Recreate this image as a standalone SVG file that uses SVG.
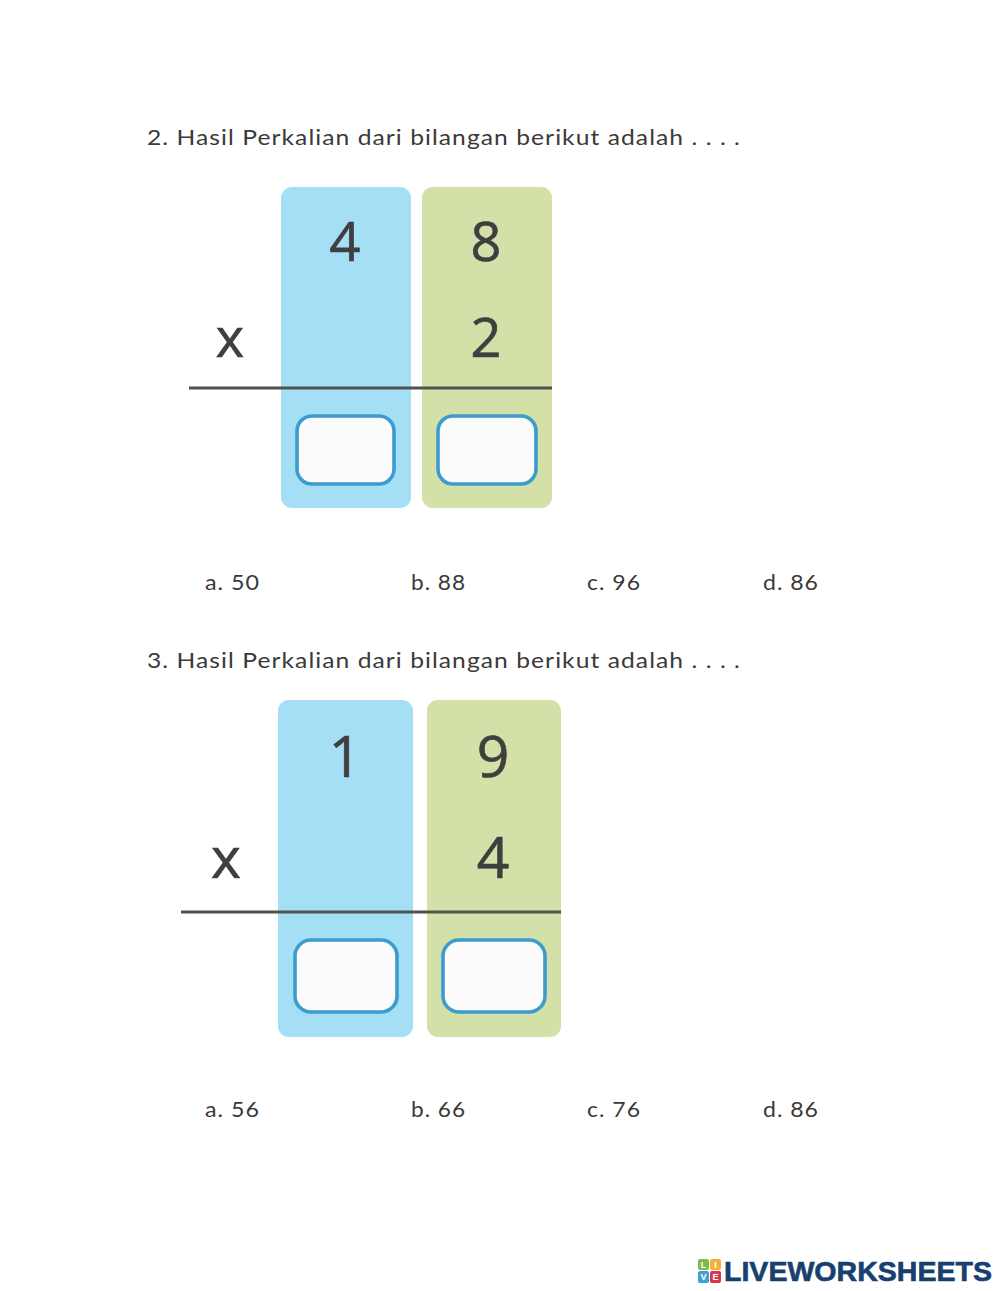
<svg xmlns="http://www.w3.org/2000/svg" width="1000" height="1291" viewBox="0 0 1000 1291">
<style>
.t{font-family:"Lato","Open Sans",sans-serif;font-size:21px;fill:#3a3a3a;letter-spacing:.9px}
.o{font-family:"Lato","Open Sans",sans-serif;font-size:21px;fill:#3a3a3a;letter-spacing:.9px}
.n{font-family:"Open Sans","Liberation Sans",sans-serif;fill:#3f3f3f;stroke:#3f3f3f;stroke-width:.7;text-anchor:middle}
.bl{fill:#a5dff5}
.gr{fill:#d3e0a8}
.box{fill:#fbfbfb;stroke:#3d9bd0;stroke-width:3.600}
.ln{stroke:#4f5250;stroke-width:3}
</style>
<rect width="1000" height="1291" fill="#fff"/>
<g id="q2">
<text class="t" x="147" y="145" textLength="594" lengthAdjust="spacingAndGlyphs">2. Hasil Perkalian dari bilangan berikut adalah . . . .</text>
<rect class="bl" x="281" y="187" width="130" height="321" rx="11"/>
<rect class="gr" x="422" y="187" width="130" height="321" rx="11"/>
<text class="n" x="345" y="261" font-size="54">4</text>
<text class="n" x="486" y="261" font-size="54">8</text>
<text class="n" x="230" y="357" font-size="54">x</text>
<text class="n" x="486" y="357" font-size="54">2</text>
<line class="ln" x1="189" y1="388" x2="552" y2="388"/>
<rect class="box" x="297" y="416" width="97" height="68" rx="15"/>
<rect class="box" x="438" y="416" width="98" height="68" rx="15"/>
<text class="o" x="205" y="590" textLength="55" lengthAdjust="spacingAndGlyphs">a. 50</text>
<text class="o" x="411" y="590" textLength="55" lengthAdjust="spacingAndGlyphs">b. 88</text>
<text class="o" x="587" y="590" textLength="54" lengthAdjust="spacingAndGlyphs">c. 96</text>
<text class="o" x="763" y="590" textLength="56" lengthAdjust="spacingAndGlyphs">d. 86</text>
</g>
<g id="q3">
<text class="t" x="147" y="668" textLength="594" lengthAdjust="spacingAndGlyphs">3. Hasil Perkalian dari bilangan berikut adalah . . . .</text>
<rect class="bl" x="278" y="700" width="135" height="337" rx="11"/>
<rect class="gr" x="427" y="700" width="134" height="337" rx="11"/>
<text class="n" x="345" y="777" font-size="57">1</text>
<text class="n" x="493" y="777" font-size="57">9</text>
<text class="n" x="226" y="878" font-size="57">x</text>
<text class="n" x="493" y="878" font-size="57">4</text>
<line class="ln" x1="181" y1="912" x2="561" y2="912"/>
<rect class="box" x="295" y="940" width="102" height="72" rx="16"/>
<rect class="box" x="443" y="940" width="102" height="72" rx="16"/>
<text class="o" x="205" y="1117" textLength="55" lengthAdjust="spacingAndGlyphs">a. 56</text>
<text class="o" x="411" y="1117" textLength="55" lengthAdjust="spacingAndGlyphs">b. 66</text>
<text class="o" x="587" y="1117" textLength="54" lengthAdjust="spacingAndGlyphs">c. 76</text>
<text class="o" x="763" y="1117" textLength="56" lengthAdjust="spacingAndGlyphs">d. 86</text>
</g>
<g id="logo" font-family="Liberation Sans, Arial, sans-serif" font-weight="700" text-anchor="middle">
<rect x="698" y="1259" width="11" height="11" rx="2" fill="#7dbb4a"/>
<rect x="710" y="1259" width="11" height="11" rx="2" fill="#f3b23c"/>
<rect x="698" y="1271" width="11" height="12" rx="2" fill="#3f9fd8"/>
<rect x="710" y="1271" width="11" height="12" rx="2" fill="#d8344a"/>
<text x="703.500" y="1268" font-size="9" fill="#fff">L</text>
<text x="715.500" y="1268" font-size="9" fill="#fff">I</text>
<text x="703.500" y="1280" font-size="9" fill="#fff">V</text>
<text x="715.500" y="1280" font-size="9" fill="#fff">E</text>
<text x="858" y="1281" font-size="28" fill="#17406f" stroke="#17406f" stroke-width=".6" textLength="268" lengthAdjust="spacingAndGlyphs">LIVEWORKSHEETS</text>
</g>
</svg>
